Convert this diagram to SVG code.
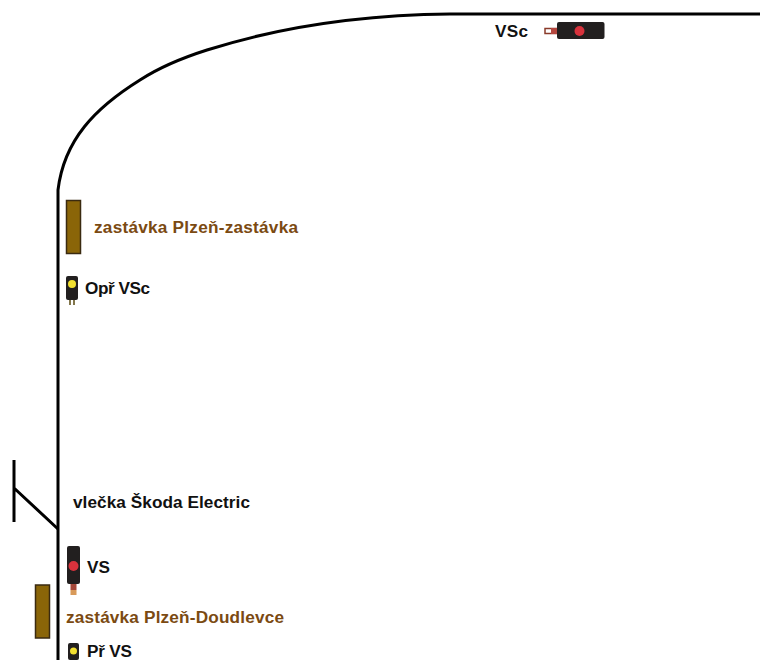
<svg xmlns="http://www.w3.org/2000/svg" width="760" height="660" viewBox="0 0 760 660">
<style>
text{font-family:"Liberation Sans",Arial,sans-serif;font-weight:bold;font-size:17.200px;fill:#111}
.brown{fill:#7b4a12}
.track{fill:none;stroke:#000;stroke-width:3}
.stop{fill:#8a6508;stroke:#3a2a10;stroke-width:1.500}
.body{fill:#221f1f}
</style>
<rect width="760" height="660" fill="#fff"/>
<g id="connectors">
<path class="track" d="M760 14H450C350 15 270 30 207 50C185 57 160 67 140 80C95 108 64 140 58 190V660"/>
<path class="track" d="M14 460V522M14 488L58 529"/>
</g>
<g id="vsc">
<text x="495" y="37" textLength="33">VSc</text>
<rect x="545" y="28.500" width="12" height="5" fill="#fff" stroke="#8a3b2a" stroke-width="1.500"/>
<rect x="551" y="28" width="7" height="6" fill="#b5473f"/>
<rect x="557" y="22" width="47.500" height="17" rx="2" class="body"/>
<circle cx="579.500" cy="31" r="5" fill="#d8323c"/>
</g>
<g id="stop-plzen-zastavka">
<rect x="66.500" y="200.500" width="14" height="53" class="stop"/>
<text x="94" y="233" class="brown" textLength="204">zastávka Plzeň-zastávka</text>
</g>
<g id="opr-vsc">
<rect x="66" y="276" width="12" height="24" rx="2" class="body"/>
<circle cx="72" cy="284" r="4" fill="#f2e030"/>
<path d="M70 300v5M74 300v5" stroke="#5a4a10" stroke-width="1.500"/>
<text x="85" y="294" textLength="65">Opř VSc</text>
</g>
<g id="vleck">
<text x="73" y="508" textLength="177">vlečka Škoda Electric</text>
</g>
<g id="vs">
<rect x="67" y="546" width="13" height="38" rx="2" class="body"/>
<circle cx="73.500" cy="566" r="5" fill="#d8323c"/>
<rect x="70.500" y="584" width="6" height="6" fill="#a5483a"/>
<rect x="70.500" y="590" width="6" height="5" fill="#d89a5a"/>
<text x="87" y="573" textLength="23">VS</text>
</g>
<g id="stop-doudlevce">
<rect x="35.500" y="585" width="14" height="53" class="stop"/>
<text x="66" y="623" class="brown" textLength="218">zastávka Plzeň-Doudlevce</text>
</g>
<g id="pr-vs">
<rect x="68" y="643" width="11" height="17" rx="2" class="body"/>
<circle cx="73.500" cy="651" r="3.500" fill="#f2e030"/>
<text x="87" y="657" textLength="45">Př VS</text>
</g>
</svg>
